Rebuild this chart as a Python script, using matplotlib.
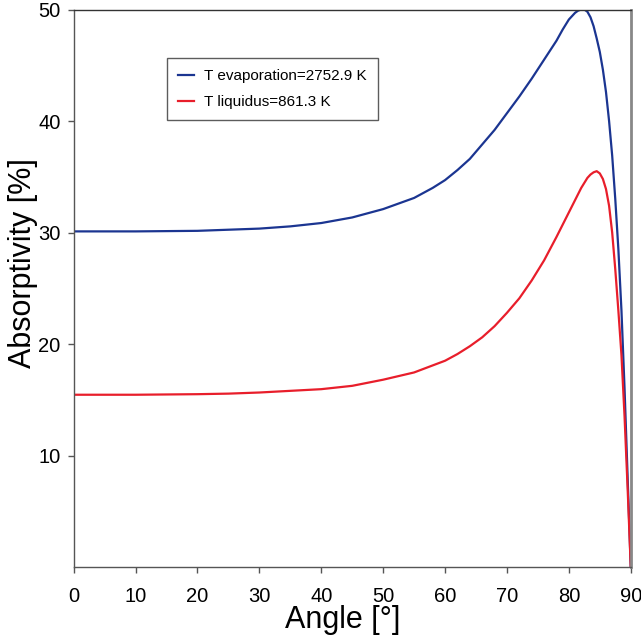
import matplotlib
matplotlib.use("Agg")
import matplotlib.pyplot as plt

plt.rcParams['font.family'] = ['Liberation Sans', 'DejaVu Sans']

# Data
angle_evap = [0, 10, 20, 25, 30, 35, 40, 45, 50, 55, 58, 60, 62, 64, 66, 68, 70,
              72, 74, 76, 78, 79, 80, 81, 81.5, 82, 82.5, 83, 83.5, 84, 84.5, 85,
              85.5, 86, 86.5, 87, 87.5, 88, 88.5, 89, 89.5, 90]
absorb_evap = [30.1, 30.1, 30.15, 30.25, 30.35, 30.55, 30.85, 31.35, 32.1, 33.1,
               34.0, 34.7, 35.6, 36.6, 37.9, 39.2, 40.7, 42.2, 43.8, 45.5, 47.2,
               48.2, 49.1, 49.7, 49.9, 50.0, 50.0, 49.8, 49.3, 48.5, 47.4, 46.2,
               44.6, 42.6, 40.0, 36.9, 33.0, 28.5, 23.0, 16.0, 8.0, 0]

angle_liq = [0, 10, 20, 25, 30, 35, 40, 45, 50, 55, 60, 62, 64, 66, 68, 70, 72,
             74, 76, 78, 80, 81, 82, 83, 83.5, 84, 84.5, 85, 85.5, 86, 86.5, 87,
             87.5, 88, 88.5, 89, 89.5, 90]
absorb_liq = [15.45, 15.45, 15.5, 15.55, 15.65, 15.8, 15.95, 16.25, 16.8, 17.45,
              18.5, 19.1, 19.8, 20.6, 21.6, 22.8, 24.1, 25.7, 27.5, 29.6, 31.8,
              32.9, 34.0, 34.9, 35.2, 35.4, 35.5, 35.3, 34.8, 33.9, 32.4, 30.0,
              26.7, 23.0, 19.0, 13.5, 7.0, 0]

labels = ["T evaporation=2752.9 K", "T liquidus=861.3 K"]
colors = ["#1b3591", "#e81e2b"]

xticks = [0, 10, 20, 30, 40, 50, 60, 70, 80, 90]
yticks = [10, 20, 30, 40, 50]

fig = plt.figure(figsize=(6.41, 6.42), dpi=100)
ax = fig.add_axes([0.115, 0.1168, 0.869, 0.8684])

ax.plot(angle_evap, absorb_evap, color=colors[0], lw=1.6, label=labels[0])
ax.plot(angle_liq, absorb_liq, color=colors[1], lw=1.6, label=labels[1])

ax.set_xlim(0, 90)
ax.set_ylim(0, 50)
ax.set_xticks(xticks)
ax.set_yticks(yticks)
ax.tick_params(direction='out', length=4.5, width=1, color='#555555',
               labelsize=14.5)
ax.tick_params(axis='x', pad=10)
ax.tick_params(axis='y', pad=5)

ax.set_xlabel("Angle [°]", fontsize=22)
ax.set_ylabel("Absorptivity [%]", fontsize=22)
ax.xaxis.set_label_coords(0.483, -0.068)
ax.yaxis.set_label_coords(-0.064, 0.545)

for side in ['left', 'bottom']:
    ax.spines[side].set_color('#555555')
    ax.spines[side].set_linewidth(1.0)
ax.spines['top'].set_color('#333333')
ax.spines['top'].set_linewidth(1.0)
ax.spines['right'].set_color('#888888')
ax.spines['right'].set_linewidth(2.0)

leg = ax.legend(loc='upper left', bbox_to_anchor=(0.1674, 0.913), fontsize=11,
                frameon=True, fancybox=False, shadow=False, handlelength=1.0,
                handletextpad=0.7, borderpad=0.75, labelspacing=0.75,
                borderaxespad=0)
leg.get_frame().set_edgecolor('#333333')
leg.get_frame().set_linewidth(1.0)

fig.savefig("out.png", dpi=100)
